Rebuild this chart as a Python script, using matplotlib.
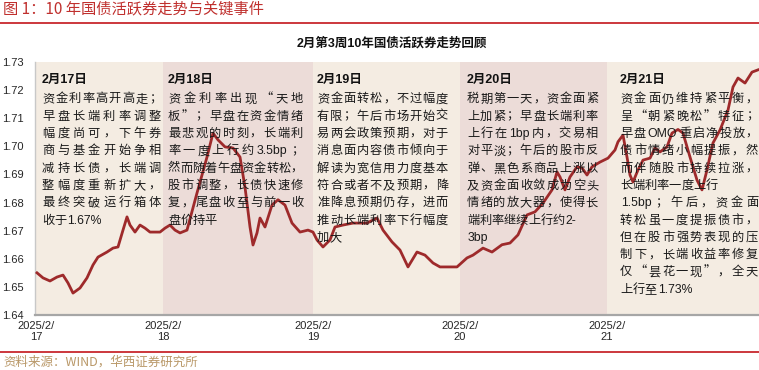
import re
import matplotlib
matplotlib.use("Agg")
import matplotlib.pyplot as plt
from matplotlib.font_manager import FontProperties

# ---------------- data ----------------
# time index (intraday sample position) and 10Y active bond yield (%)
t = [1, 7, 14, 21, 27, 32, 37, 44, 51, 57, 62, 71, 77, 82, 87, 91, 94, 99, 104, 109,
     114, 124, 129, 134, 139, 144, 151, 161, 171, 177, 182, 189, 197, 204, 209, 214,
     217, 221, 224, 229, 236, 242, 249, 256, 264, 272, 277, 281, 287, 294, 299, 307,
     317, 331, 341, 347, 356, 364, 372, 381, 389, 397, 404, 421, 431, 437, 447, 456,
     466, 474, 482, 491, 499, 507, 516, 521, 524, 529, 534, 541, 546, 551, 556, 564,
     572, 579, 582, 587, 591, 594, 597, 602, 607, 614, 619, 624, 631, 636, 642, 647,
     654, 661, 666, 671, 677, 684, 692, 697, 702, 709, 716, 722]
yld = [1.6550, 1.6532, 1.6521, 1.6535, 1.6542, 1.6514, 1.6478, 1.6496, 1.6532, 1.6578,
       1.6606, 1.6624, 1.6638, 1.6642, 1.6702, 1.6749, 1.6720, 1.6695, 1.6720, 1.6709,
       1.6695, 1.6695, 1.6709, 1.6720, 1.6702, 1.6692, 1.6702, 1.6834, 1.6962, 1.7047,
       1.7023, 1.6998, 1.6994, 1.6962, 1.6855, 1.6713, 1.6649, 1.6692, 1.6745, 1.6713,
       1.6791, 1.6810, 1.6791, 1.6727, 1.6695, 1.6702, 1.6695, 1.6667, 1.6642, 1.6667,
       1.6713, 1.6720, 1.6727, 1.6727, 1.6745, 1.6702, 1.6660, 1.6631, 1.6571, 1.6624,
       1.6613, 1.6585, 1.6571, 1.6571, 1.6603, 1.6613, 1.6638, 1.6624, 1.6650, 1.6656,
       1.6685, 1.6756, 1.6767, 1.6798, 1.6845, 1.6909, 1.6891, 1.6845, 1.6891, 1.6927,
       1.6923, 1.6898, 1.6927, 1.6944, 1.6958, 1.6987, 1.7016, 1.7040, 1.6962, 1.6898,
       1.6873, 1.6916, 1.6951, 1.6958, 1.6994, 1.6980, 1.6998, 1.7047, 1.7060, 1.7047,
       1.6962, 1.6880, 1.6845, 1.6916, 1.7012, 1.7058, 1.7129, 1.7211, 1.7243, 1.7225,
       1.7264, 1.7272]

day_ticks = [0, 127, 277, 424, 571]          # start of each trading day
tick_labels = ["2025/2/\n17", "2025/2/\n18", "2025/2/\n19", "2025/2/\n20", "2025/2/\n21"]
y_ticks = [1.64, 1.65, 1.66, 1.67, 1.68, 1.69, 1.70, 1.71, 1.72, 1.73]

day_heads = ["2月17日", "2月18日", "2月19日", "2月20日", "2月21日"]
day_texts = [
    ["资金利率高开高走；", "早盘长端利率调整", "幅度尚可，下午券", "商与基金开始争相",
     "减持长债，长端调", "整幅度重新扩大，", "最终突破运行箱体", "收于1.67%"],
    ["资金利率出现“天地", "板”；早盘在资金情绪", "最悲观的时刻，长端利", "率一度上行约3.5bp；",
     "然而随着午盘资金转松，", "股市调整，长债快速修", "复，尾盘收至与前一收", "盘价持平"],
    ["资金面转松，不过幅度", "有限；午后市场开始交", "易两会政策预期，对于", "消息面内容债市倾向于",
     "解读为宽信用力度基本", "符合或者不及预期，降", "准降息预期仍存，进而", "推动长端利率下行幅度",
     "加大"],
    ["税期第一天，资金面紧", "上加紧；早盘长端利率", "上行在1bp内，交易相", "对平淡；午后的股市反",
     "弹、黑色系商品上涨以", "及资金面收敛成为空头", "情绪的放大器，使得长", "端利率继续上行约2-",
     "3bp"],
    ["资金面仍维持紧平衡，", "呈“朝紧晚松”特征；", "早盘OMO重启净投放，", "债市情绪小幅提振，然",
     "而伴随股市持续拉涨，", "长端利率一度上行", "1.5bp；午后，资金面", "转松虽一度提振债市，",
     "但在股市强势表现的压", "制下，长端收益率修复", "仅“昙花一现”，全天", "上行至1.73%"],
]
# lines that are not stretched to the box width
no_justify = {(0, 7), (1, 7), (2, 8), (3, 7), (3, 8), (4, 5), (4, 11)}

main_title = "图 1：10 年国债活跃券走势与关键事件"
chart_title = "2月第3周10年国债活跃券走势回顾"
source = "资料来源：WIND，华西证券研究所"

# ---------------- layout ----------------
W, H = 759, 370
fig = plt.figure(figsize=(W / 100, H / 100), dpi=100)
fig.patch.set_facecolor("white")

def fx(px):
    return px / W

def fy(py):
    return 1 - py / H

CJK = ["Noto Sans CJK SC", "DejaVu Sans"]
LAT = ["Liberation Sans", "Noto Sans CJK SC", "DejaVu Sans"]

ax = fig.add_axes([fx(35), fy(315), (759 - 35) / W, (315 - 62) / H])
ax.set_xlim(-1, 723)
ax.set_ylim(1.64, 1.73)

shade = ["#f4ece2", "#ecdcd8"]
edges = [-1] + day_ticks[1:] + [723]
for i in range(len(edges) - 1):
    ax.axvspan(edges[i], edges[i + 1], color=shade[i % 2], lw=0, zorder=0)

ax.plot(t, yld, color="#9e2a2b", lw=2.0, solid_joinstyle="round", zorder=3)

ax.set_yticks(y_ticks)
ax.set_yticklabels([f"{v:.2f}" for v in y_ticks], fontfamily=LAT, fontsize=8, color="#262626")
ax.set_xticks(day_ticks)
ax.set_xticklabels(tick_labels, fontfamily=LAT, fontsize=8, color="#262626", linespacing=1.15)
ax.tick_params(axis="y", length=0, pad=8)
ax.tick_params(axis="x", length=0, pad=4)
for s in ["top", "right"]:
    ax.spines[s].set_visible(False)
ax.spines["left"].set_color("#c8c8c8")
ax.spines["left"].set_linewidth(1.0)
ax.spines["bottom"].set_color("#a6a6a6")
ax.spines["bottom"].set_linewidth(1.6)

# ---------------- titles & footer ----------------
fig.text(fx(3), fy(9), main_title, fontfamily=CJK, fontsize=11, color="#c0302e",
         ha="left", va="center")
fig.add_artist(plt.Line2D([0, 1], [fy(22.5), fy(22.5)], color="#c8282d", lw=1.3))
fig.text(fx(392), fy(43), chart_title, fontfamily=LAT, fontsize=9, fontweight="bold",
         color="#111111", ha="center", va="center")
fig.add_artist(plt.Line2D([0, 1], [fy(352), fy(352)], color="#c8282d", lw=1.3))
fig.text(fx(3), fy(362), source, fontfamily=CJK, fontsize=9, color="#b99868",
         ha="left", va="center")

# ---------------- annotation boxes ----------------
renderer = fig.canvas.get_renderer()
fs = 8.8
em = fs * 100 / 72
prop_lat = FontProperties(family=LAT, size=fs)
tok_re = re.compile(r"[A-Za-z0-9.%\-]+|.")

box_left = [42, 168, 317, 467, 620]
box_width = [119, 135, 131, 131, 138]
head_y = 80
line0 = 98
step = 17.3

for d in range(5):
    fig.text(fx(box_left[d]), fy(head_y), day_heads[d], fontfamily=LAT, fontsize=9,
             fontweight="bold", color="#111111", ha="left", va="center", zorder=5)
    for li, line in enumerate(day_texts[d]):
        toks = tok_re.findall(line)
        widths = []
        for tk in toks:
            if len(tk) == 1 and ord(tk) > 127:
                widths.append(em)
            else:
                w, _, _ = renderer.get_text_width_height_descent(tk, prop_lat, ismath=False)
                widths.append(w + 2)
        total = sum(widths)
        if (d, li) in no_justify or len(toks) < 2:
            gap = 0.0
        else:
            gap = (box_width[d] - total) / (len(toks) - 1)
        x = box_left[d]
        yb = line0 + li * step + em * 0.36
        for tk, w in zip(toks, widths):
            if len(tk) == 1 and ord(tk) > 127:
                if tk in "“‘（《":
                    fig.text(fx(x + w), fy(yb), tk, fontfamily=CJK, fontsize=fs,
                             color="#1a1a1a", ha="right", va="baseline", zorder=5)
                else:
                    fig.text(fx(x), fy(yb), tk, fontfamily=CJK, fontsize=fs,
                             color="#1a1a1a", ha="left", va="baseline", zorder=5)
            else:
                fig.text(fx(x + 1), fy(yb), tk, fontfamily=LAT, fontsize=fs,
                         color="#1a1a1a", ha="left", va="baseline", zorder=5)
            x += w + gap

fig.savefig("out.png", dpi=100, facecolor="white")
